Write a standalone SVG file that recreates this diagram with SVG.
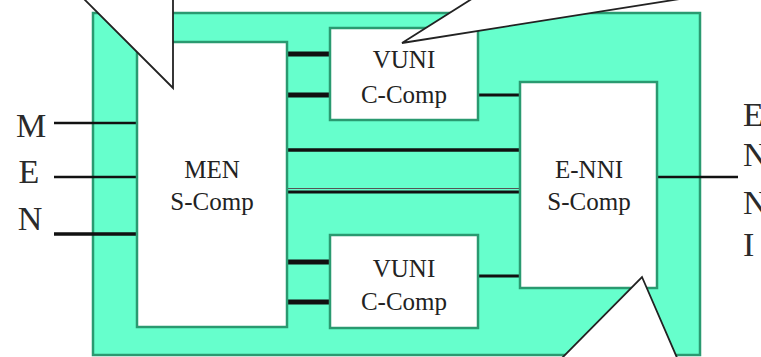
<svg xmlns="http://www.w3.org/2000/svg" width="761" height="357" viewBox="0 0 761 357">
<style>
.box{fill:#ffffff;stroke:#2a9a70;stroke-width:2.5}
.bg{fill:#66ffcc;stroke:#2a9a70;stroke-width:2.5}
.t{font-family:"Liberation Serif","Times New Roman",serif;fill:#222;text-anchor:middle}
.lbl{font-size:25px}
.big{font-size:34px;fill:#2a2a2a}
.st{text-anchor:start}
.c{stroke:#111;fill:none}
.co{fill:#ffffff;stroke:none}
.col{fill:none;stroke:#222;stroke-width:1.8;stroke-linejoin:miter}
</style>
<rect width="761" height="357" fill="#ffffff"/>
<g id="network">
<rect class="bg" x="93" y="13" width="607" height="342"/>
</g>
<g id="connectors">
<line class="c" x1="54" y1="123" x2="137" y2="123" stroke-width="2.5"/>
<line class="c" x1="54" y1="177" x2="137" y2="177" stroke-width="2.5"/>
<line class="c" x1="54" y1="234" x2="137" y2="234" stroke-width="3.5"/>
<line class="c" x1="287" y1="54" x2="330" y2="54" stroke-width="5"/>
<line class="c" x1="287" y1="95" x2="330" y2="95" stroke-width="5"/>
<line class="c" x1="478" y1="95" x2="520" y2="95" stroke-width="3"/>
<line class="c" x1="287" y1="150" x2="520" y2="150" stroke-width="3.5"/>
<line x1="287" y1="188.5" x2="520" y2="188.5" stroke="#555" stroke-width="1"/>
<line class="c" x1="287" y1="192" x2="520" y2="192" stroke-width="3"/>
<line class="c" x1="287" y1="262" x2="330" y2="262" stroke-width="5"/>
<line class="c" x1="287" y1="302" x2="330" y2="302" stroke-width="5"/>
<line class="c" x1="478" y1="276" x2="520" y2="276" stroke-width="3"/>
<line class="c" x1="657" y1="177" x2="738" y2="177" stroke-width="2.5"/>
</g>
<g id="men-scomp">
<rect class="box" x="137" y="42" width="150" height="285"/>
<text class="t lbl" x="212" y="178">MEN</text>
<text class="t lbl" x="212" y="210">S-Comp</text>
</g>
<g id="vuni-top">
<rect class="box" x="330" y="28" width="148" height="92"/>
<text class="t lbl" x="404" y="68">VUNI</text>
<text class="t lbl" x="404" y="103">C-Comp</text>
</g>
<g id="enni-scomp">
<rect class="box" x="520" y="82" width="137" height="206"/>
<text class="t lbl" x="589" y="178">E-NNI</text>
<text class="t lbl" x="589" y="210">S-Comp</text>
</g>
<g id="vuni-bottom">
<rect class="box" x="330" y="235" width="148" height="93"/>
<text class="t lbl" x="404" y="277">VUNI</text>
<text class="t lbl" x="404" y="310">C-Comp</text>
</g>
<g id="callouts">
<polygon class="co" points="80,-5 173,88 173,-5"/>
<polyline class="col" points="80,-5 173,88 173,-5"/>
<polygon class="co" points="478,-5 402,43 705,-5"/>
<polyline class="col" points="478,-5 402,43 705,-5"/>
<polygon class="co" points="560,360 642,277 678,360"/>
<polyline class="col" points="560,360 642,277 678,360"/>
</g>
<g id="men-label">
<text class="t big" x="31" y="137">M</text>
<text class="t big" x="29" y="183">E</text>
<text class="t big" x="30" y="230">N</text>
</g>
<g id="enni-label">
<text class="t big st" x="743" y="126">E</text>
<text class="t big st" x="743" y="166">N</text>
<text class="t big st" x="743" y="214">N</text>
<text class="t big st" x="743" y="256">I</text>
</g>
</svg>
